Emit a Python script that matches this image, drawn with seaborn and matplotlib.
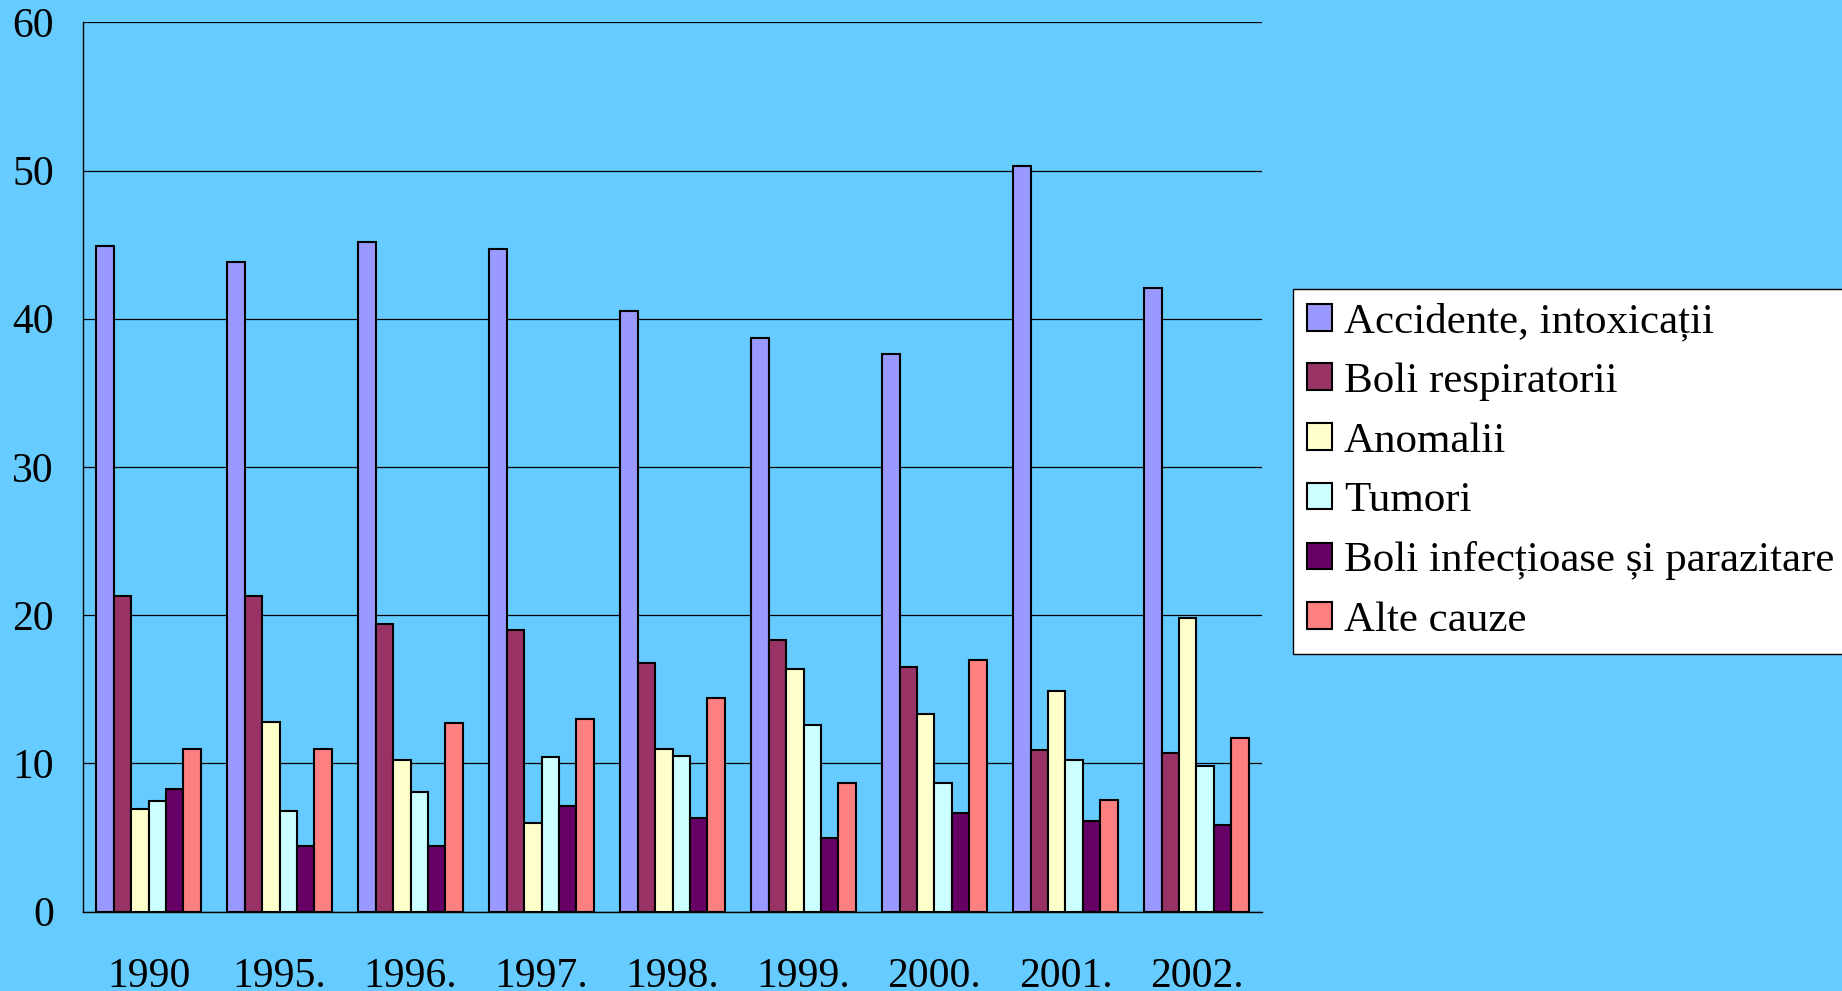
import matplotlib
matplotlib.use("Agg")
import matplotlib.pyplot as plt
from matplotlib.patches import Patch
import numpy as np
import pandas as pd
import seaborn as sns

years = ["1990", "1995.", "1996.", "1997.", "1998.", "1999.", "2000.", "2001.", "2002."]
causes = ["Accidente, intoxicații", "Boli respiratorii", "Anomalii", "Tumori",
          "Boli infecțioase și parazitare", "Alte cauze"]

accidente = [44.9, 43.8, 45.2, 44.7, 40.5, 38.7, 37.6, 50.3, 42.1]
respiratorii = [21.3, 21.3, 19.4, 19.0, 16.8, 18.3, 16.5, 10.9, 10.7]
anomalii = [6.95, 12.8, 10.2, 6.0, 11.0, 16.4, 13.3, 14.9, 19.8]
tumori = [7.45, 6.8, 8.1, 10.4, 10.5, 12.6, 8.7, 10.2, 9.85]
infectioase = [8.25, 4.4, 4.4, 7.1, 6.3, 5.0, 6.65, 6.1, 5.85]
alte = [11.0, 11.0, 12.7, 13.0, 14.4, 8.7, 17.0, 7.5, 11.7]

colors = ["#9999FF", "#993366", "#FFFFCC", "#CCFFFF", "#660066", "#FF8080"]
bg = "#66CCFF"

series = [accidente, respiratorii, anomalii, tumori, infectioase, alte]
df = pd.DataFrame({
    "an": np.tile(years, len(causes)),
    "cauza": np.repeat(causes, len(years)),
    "valoare": np.concatenate(series),
})

sns.set_style("white")
plt.rcParams["font.family"] = ["Liberation Serif", "DejaVu Serif"]
plt.rcParams["text.color"] = "black"
plt.rcParams["xtick.color"] = "black"
plt.rcParams["ytick.color"] = "black"

fig = plt.figure(figsize=(18.42, 9.91), dpi=100, facecolor=bg)
ax = fig.add_axes([0.0451, 0.0801, 0.6400, 0.8974])
ax.set_facecolor(bg)

sns.barplot(data=df, x="an", y="valoare", hue="cauza", order=years,
            hue_order=causes, palette=colors, width=0.8, saturation=1,
            edgecolor="black", linewidth=1.5, ax=ax, legend=False, zorder=3)

ax.set_xlim(-0.5, len(years) - 0.5)
ax.set_ylim(0, 60)
ax.set_yticks(np.arange(0, 61, 10))
ax.yaxis.grid(True, color="black", linewidth=0.9, zorder=0)
ax.set_axisbelow(True)
ax.set_xlabel("")
ax.set_ylabel("")

for side in ("top", "right"):
    ax.spines[side].set_visible(False)
for side in ("left", "bottom"):
    ax.spines[side].set_color("black")
    ax.spines[side].set_linewidth(1.0)

# category boundaries carry the tick marks; labels sit at the centres
ax.set_xticks(np.arange(-0.5, len(years), 1.0), minor=True)
ax.tick_params(axis="x", which="minor", direction="out", length=9, width=1.0, color="black")
ax.tick_params(axis="x", which="major", length=0, pad=33, labelsize=30, labelcolor="black")
ax.tick_params(axis="y", direction="out", length=7, width=0.9, color="black",
               pad=14, labelsize=30, labelcolor="black")

handles = [Patch(facecolor=c, edgecolor="black", linewidth=1.5) for c in colors]
leg = fig.legend(handles, causes, loc="upper left", bbox_to_anchor=(0.702, 0.7084),
                 frameon=True, fancybox=False, fontsize=31, handlelength=0.58,
                 handleheight=0.58, handletextpad=0.28, labelspacing=0.49,
                 borderpad=0.32, borderaxespad=0)
leg.get_frame().set_facecolor("white")
leg.get_frame().set_edgecolor("black")
leg.get_frame().set_linewidth(1.0)
leg.get_frame().set_alpha(1)
for t in leg.get_texts():
    t.set_color("black")

fig.savefig("out.png", dpi=100, facecolor=bg)
